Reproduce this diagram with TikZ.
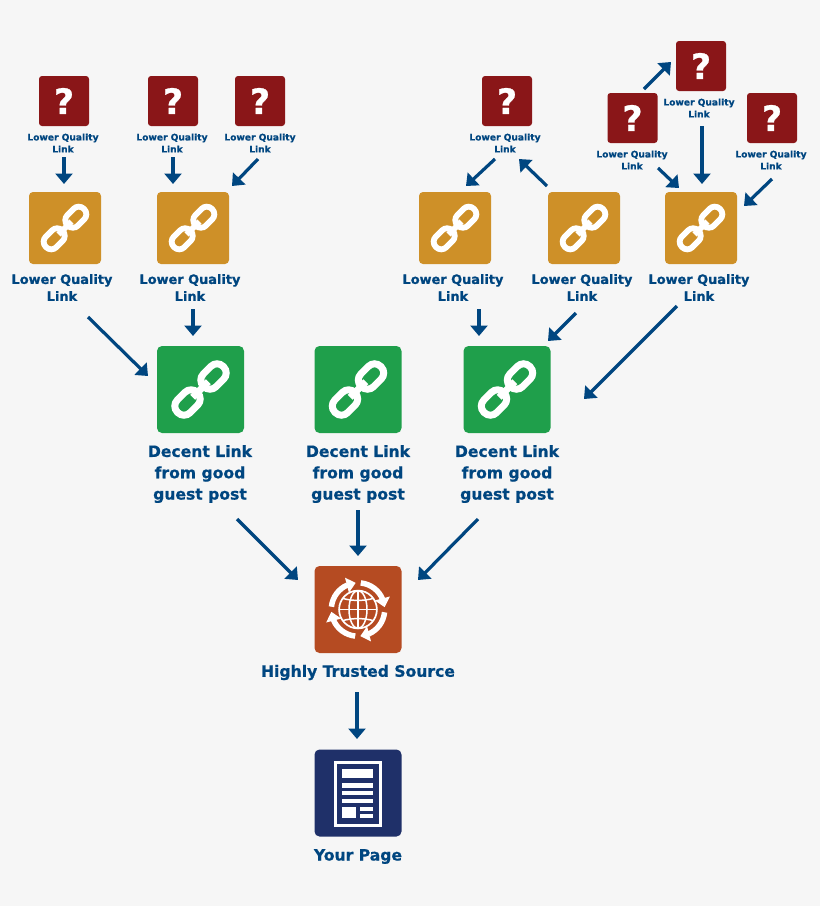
\documentclass[tikz,border=0pt]{standalone}
\usepackage{fontspec}
\setmainfont{DejaVu Sans}[BoldFont={DejaVu Sans Bold},BoldFeatures={FakeBold=0.7}]
\usetikzlibrary{arrows.meta,bending}
\definecolor{bgc}{HTML}{F6F6F6}
\definecolor{redc}{HTML}{8A1618}
\definecolor{goldc}{HTML}{CE9028}
\definecolor{greenc}{HTML}{1F9F4B}
\definecolor{orangec}{HTML}{B54B22}
\definecolor{navyc}{HTML}{1F3069}
\definecolor{linkblue}{HTML}{004680}
\tikzset{
  box/.style={minimum size=#1,inner sep=0pt,text=white},
  redbox/.style={box=50pt,rounded corners=3pt,fill=redc,font=\bfseries\fontsize{35}{35}\selectfont},
  goldbox/.style={box=72pt,rounded corners=4pt,fill=goldc},
  greenbox/.style={box=87pt,rounded corners=5pt,fill=greenc},
  orangebox/.style={box=87pt,rounded corners=5pt,fill=orangec},
  navybox/.style={box=87pt,rounded corners=5pt,fill=navyc},
  smalllabel/.style={text=linkblue,align=center,inner sep=0pt,font=\bfseries\fontsize{9.1}{12}\selectfont},
  midlabel/.style={text=linkblue,align=center,inner sep=0pt,font=\bfseries\fontsize{12.9}{17}\selectfont},
  biglabel/.style={text=linkblue,align=center,inner sep=0pt,font=\bfseries\fontsize{15.6}{21.3}\selectfont},
  arr/.style={draw=linkblue,line width=3.2pt,-{Triangle[width=17pt,length=10.5pt]}},
  iconline/.style={draw=white,line cap=butt},
}
\newcommand{\arrowlink}[6]{\draw[arr] ([shift={(#2,#3)}]#1.center) -- ([shift={(#5,#6)}]#4.center);}
\newcommand{\chainicon}[2]{%
 \begin{scope}[shift={(#1.center)},y=1pt,rotate=45,scale=#2]
  \foreach \s in {-1,1}{
   \draw[iconline,line width={7pt*#2},rounded corners={8.6pt*#2}] (\s*18.4-14,-9) rectangle (\s*18.4+14,9);
  }
  \draw[iconline,line width={7pt*#2}] (-11,0) -- (11,0);
 \end{scope}}
\begin{document}
\begin{tikzpicture}[x=1pt,y=-1pt]
\useasboundingbox[fill=bgc] (0,0) rectangle (820,906);
% red question boxes
\node[redbox] (r1) at (64,101) {?};
\node[redbox] (r2) at (173,101) {?};
\node[redbox] (r3) at (260,101) {?};
\node[redbox] (r4) at (507,101) {?};
\node[redbox] (r5) at (701,66) {?};
\node[redbox] (r6) at (632.5,118) {?};
\node[redbox] (r7) at (772,118) {?};
\node[smalllabel] (l1) at (63,143) {Lower Quality\\Link};
\node[smalllabel] (l2) at (172,143) {Lower Quality\\Link};
\node[smalllabel] (l3) at (260,143) {Lower Quality\\Link};
\node[smalllabel] (l4) at (505,143) {Lower Quality\\Link};
\node[smalllabel] (l5) at (699,108) {Lower Quality\\Link};
\node[smalllabel] (l6) at (632,160) {Lower Quality\\Link};
\node[smalllabel] (l7) at (771,160) {Lower Quality\\Link};
% gold
\node[goldbox] (g1) at (65,228) {};
\node[goldbox] (g2) at (193,228) {};
\node[goldbox] (g3) at (455,228) {};
\node[goldbox] (g4) at (584,228) {};
\node[goldbox] (g5) at (701,228) {};
\chainicon{g1}{0.83}
\chainicon{g2}{0.83}
\chainicon{g3}{0.83}
\chainicon{g4}{0.83}
\chainicon{g5}{0.83}
\node[midlabel] (L1) at (62,287.5) {Lower Quality\\Link};
\node[midlabel] (L2) at (190,287.5) {Lower Quality\\Link};
\node[midlabel] (L3) at (453,287.5) {Lower Quality\\Link};
\node[midlabel] (L4) at (582,287.5) {Lower Quality\\Link};
\node[midlabel] (L5) at (699,287.5) {Lower Quality\\Link};
% green
\node[greenbox] (G1) at (200.5,389.5) {};
\node[greenbox] (G2) at (358,389.5) {};
\node[greenbox] (G3) at (507,389.5) {};
\chainicon{G1}{1}
\chainicon{G2}{1}
\chainicon{G3}{1}
\node[biglabel] (D1) at (200,474) {Decent Link\\from good\\guest post};
\node[biglabel] (D2) at (358,474) {Decent Link\\from good\\guest post};
\node[biglabel] (D3) at (507,474) {Decent Link\\from good\\guest post};
% orange
\node[orangebox] (O) at (358,609.5) {};
\begin{scope}[shift={(O.center)},y=1pt]
 \foreach \a in {0,90,180,270}{
  \draw[draw=white,line width=5.5pt,-{Triangle[width=15pt,length=9pt,flex]}]
    (\a+84:26.7) arc[start angle=\a+84,end angle=\a+5,radius=26.7];
 }
 \draw[white,line width=1.7pt] (0,0) circle (18.9);
 \draw[white,line width=1.5pt] (0,0) ellipse (9 and 18.9);
 \draw[white,line width=1.5pt] (0,-18.9) -- (0,18.9);
 \draw[white,line width=1.5pt] (-18.9,0) -- (18.9,0);
 \draw[white,line width=1.5pt] (-15,11) .. controls (-6,8.5) and (6,8.5) .. (15,11)
   (-15,-11) .. controls (-6,-8.5) and (6,-8.5) .. (15,-11);
\end{scope}
\node[biglabel] (T) at (358,672.5) {Highly Trusted Source};
% navy
\node[navybox] (N) at (358,793) {};
\begin{scope}[shift={(N.center)}]
 \draw[white,line width=2.6pt] (-22.4,-30.7) rectangle (22.4,32.4);
 \fill[white] (-15.7,-23.7) rectangle (15.3,-14.7);
 \fill[white] (-15.7,-9.7) rectangle (15.3,-5.3);
 \fill[white] (-15.7,-2) rectangle (15.3,2.3);
 \fill[white] (-15.7,6) rectangle (15.3,9.7);
 \fill[white] (-15.7,13.7) rectangle (-2,24.7);
 \fill[white] (2,13.7) rectangle (15.3,17.7);
 \fill[white] (2,20.7) rectangle (15.3,24.7);
\end{scope}
\node[biglabel] (Y) at (358,856.5) {Your Page};
% connectors
\arrowlink{l1}{1}{14}{g1}{-1}{-44}
\arrowlink{l2}{1}{14}{g2}{-20}{-44}
\arrowlink{l3}{-2}{16}{g2}{39}{-42}
\arrowlink{l4}{-10}{16}{g3}{11}{-42}
\arrowlink{g4}{-37}{-42}{l4}{14}{16}
\arrowlink{r6}{11.5}{-29}{r5}{-30}{-4}
\arrowlink{l5}{3}{18}{g5}{1}{-44}
\arrowlink{l6}{26}{8}{g5}{-22}{-40}
\arrowlink{l7}{1}{19}{g5}{43}{-22}
\arrowlink{L1}{26}{29.5}{G1}{-52.5}{-13.5}
\arrowlink{L2}{3}{21.5}{G1}{-7.5}{-53.5}
\arrowlink{L3}{26}{21.5}{G3}{-28}{-53.5}
\arrowlink{L4}{-6}{25.5}{G3}{41}{-48.5}
\arrowlink{L5}{-22}{18.5}{G3}{77}{9.5}
\arrowlink{D1}{37}{45}{O}{-60}{-29.5}
\arrowlink{D2}{0}{36}{O}{0}{-53.5}
\arrowlink{D3}{-29}{45}{O}{60}{-29.5}
\arrowlink{T}{-1}{19.5}{N}{-1}{-54}
\end{tikzpicture}
\end{document}
